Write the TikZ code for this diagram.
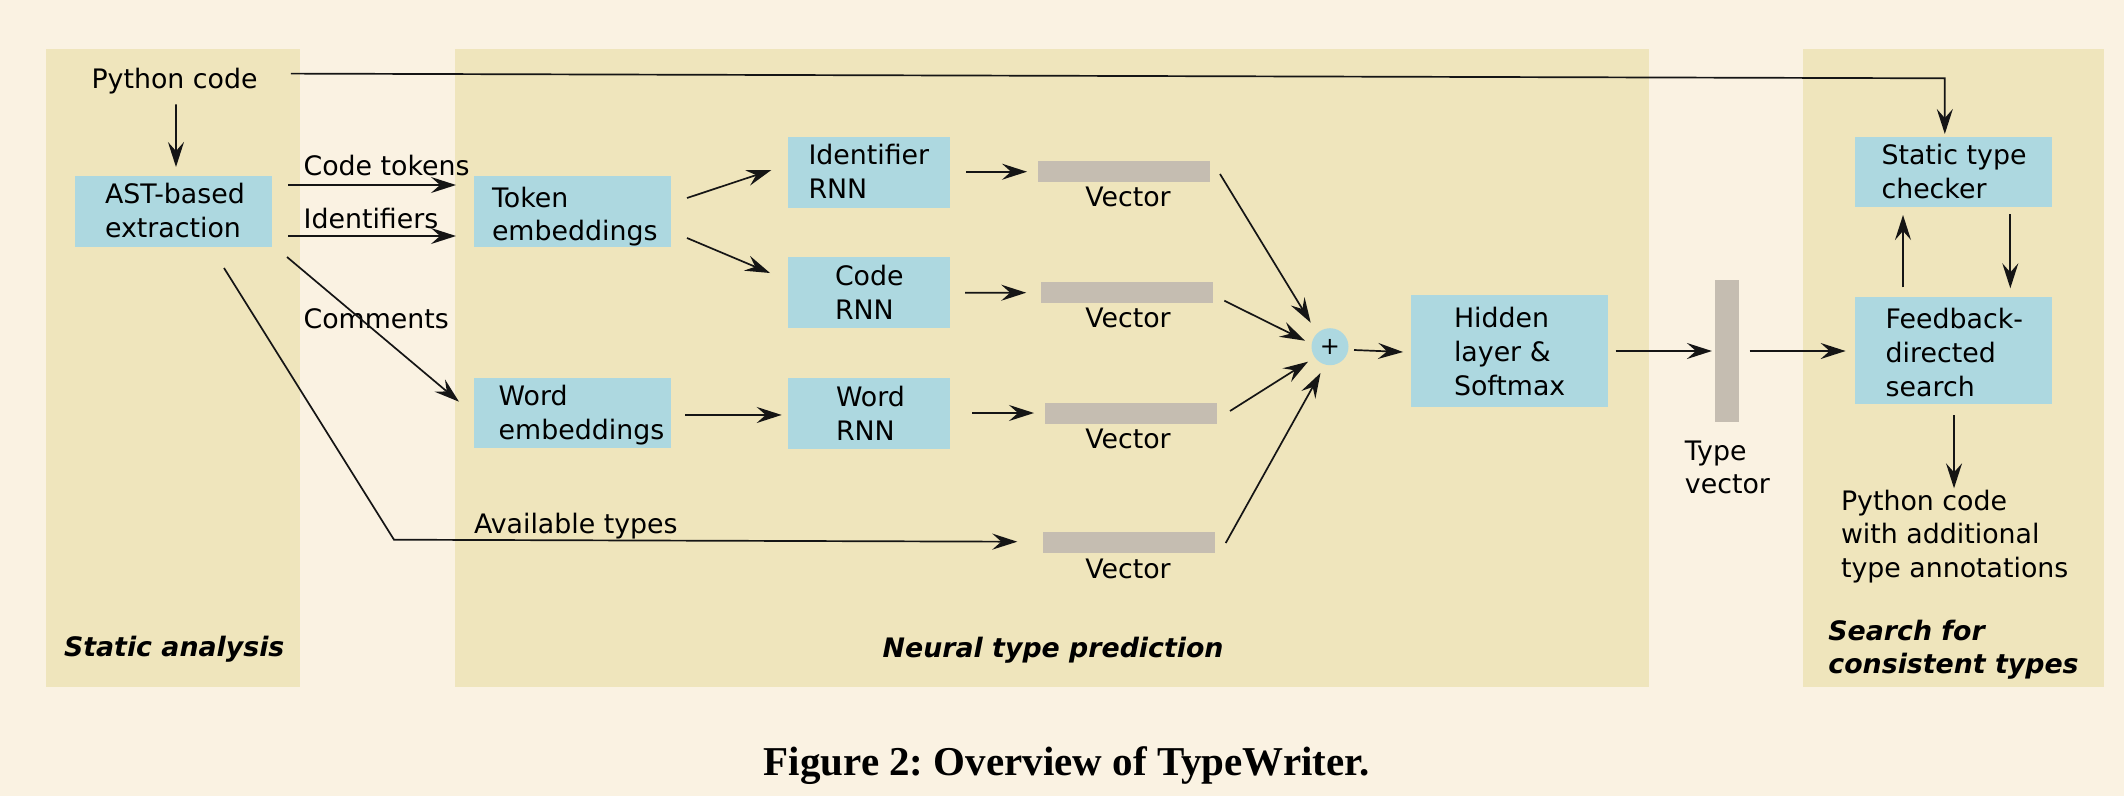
\documentclass[tikz,border=0pt]{standalone}
\usepackage{fontspec}
\setmainfont{DejaVu Sans}
\newfontfamily\capfont{Liberation Serif}
\usetikzlibrary{arrows.meta,calc}
\definecolor{bgc}{HTML}{FAF2E2}
\definecolor{panelc}{HTML}{EFE5BC}
\definecolor{boxc}{HTML}{ADD8E0}
\definecolor{barc}{HTML}{C5BDB1}
\definecolor{linec}{HTML}{151515}
\frenchspacing
\begin{document}
\begin{tikzpicture}[x=1pt,y=-1pt,
  every node/.style={inner sep=0pt, outer sep=0pt, font=\fontsize{26.8}{33.8}\selectfont},
  blk/.style={fill=boxc, draw=none, minimum width=197pt, minimum height=71pt},
  rnn/.style={fill=boxc, draw=none, minimum width=161.6pt, minimum height=71pt},
  bar/.style={fill=barc, draw=none, minimum width=172pt, minimum height=21pt},
  txt/.style={align=left, anchor=north west},
  lbl/.style={anchor=base west},
  vlbl/.style={anchor=base},
  ttl/.style={align=left, font=\fontsize{26.8}{33.3}\selectfont\bfseries\itshape},
  conn/.style={draw=linec, line width=1.7pt, -{Stealth[length=25pt,width=16pt,inset=9pt]}}
]
\useasboundingbox (0,0) rectangle (2124,796);
\fill[bgc] (0,0) rectangle (2124,796);
% panels
\fill[panelc] (46,49.3) rectangle (300.4,686.7);
\fill[panelc] (455,49.3) rectangle (1649,686.7);
\fill[panelc] (1803,49.3) rectangle (2104,686.7);

% boxes
\node[blk] (ast) at (173.5,211.5) {};
\node[blk] (tok) at (572.5,211.5) {};
\node[blk, minimum height=70pt] (we) at (572.5,413) {};
\node[rnn] (idr) at (868.8,172) {};
\node[rnn] (cdr) at (868.8,292.5) {};
\node[rnn] (wdr) at (868.8,413.3) {};
\node[bar] (v1) at (1124,171.5) {};
\node[bar] (v2) at (1126.8,292.35) {};
\node[bar] (v3) at (1131,413) {};
\node[bar] (v4) at (1129.3,542.85) {};
\node[circle, fill=boxc, minimum size=37pt, font=\fontsize{24}{28}\selectfont] (plus) at (1330,346.7) {+};
\node[blk, minimum height=111.4pt] (hid) at (1509.2,351) {};
\node[fill=barc, minimum width=24.4pt, minimum height=141.7pt] (tv) at (1727.1,350.85) {};
\node[blk, minimum height=70.6pt] (stc) at (1953.4,172) {};
\node[blk, minimum height=107pt] (fb) at (1953.4,350.8) {};

% texts
\node[lbl] (py) at (91.5,88) {Python code};
\node[txt] (astt) at (105,183.4) {AST-based\\extraction};
\node[txt] (tokt) at (492,186.8) {Token\\embeddings};
\node[txt] (wet) at (498.7,385.1) {Word\\embeddings};
\node[txt] (idrt) at (808.5,144.1) {Identifier\\RNN};
\node[txt] (cdrt) at (835,265.1) {Code\\RNN};
\node[txt] (wdrt) at (836,386.1) {Word\\RNN};
\node[txt] (hidt) at (1454,307.4) {Hidden\\layer \&\\Softmax};
\node[txt] (stct) at (1881.5,144.4) {Static type\\checker};
\node[txt] (fbt) at (1885.7,308.4) {Feedback-\\directed\\search};
\node[txt, font=\fontsize{26.8}{33.3}\selectfont] (out) at (1841,490.1) {Python code\\with additional\\type annotations};
\node[txt, font=\fontsize{26.8}{33.3}\selectfont] (tvt) at (1684.9,441) {Type\\vector};
\node[vlbl] (v1t) at ($(v1.south)+(4,24.5)$) {Vector};
\node[vlbl] (v2t) at ($(v2.south)+(1.2,25)$) {Vector};
\node[vlbl] (v3t) at ($(v3.south)+(-3,25)$) {Vector};
\node[vlbl] (v4t) at ($(v4.south)+(-1.3,25)$) {Vector};
\node[lbl] (l1) at (303.6,175) {Code tokens};
\node[lbl] (l2) at (303.6,228) {Identifiers};
\node[lbl] (l3) at (303.6,328) {Comments};
\node[lbl] (l4) at (474,533) {Available types};
\node[ttl, anchor=base west] (t1) at (64,656.7) {Static analysis};
\node[ttl, anchor=base west] (t2) at (882.7,657) {Neural type prediction};
\node[ttl, anchor=north west] (t3) at (1828.4,620.1) {Search for\\consistent types};
\node[anchor=base west, font=\capfont\bfseries\fontsize{41}{48}\selectfont] (cap) at (763.8,775) {Figure 2: Overview of TypeWriter.};

% helper coordinates
\coordinate (c1) at (1944.8,78.3);
\coordinate (c2) at (394,539.7);

% connectors
\draw[conn] ($(py.south)+(1.4,10.7)$) -- ($(ast.north)+(2.5,-9)$);
\draw[conn] ($(ast.east)+(16,-26.5)$) -- ($(tok.west)+(-18,-26.5)$);
\draw[conn] ($(ast.east)+(16,24.5)$) -- ($(tok.west)+(-18,24.5)$);
\draw[conn] ($(ast.south east)+(15,10)$) -- ($(we.north west)+(-15,23.7)$);
\draw[conn] ($(ast.south)+(50.5,21)$) -- (c2) -- ($(v4.west)+(-26,-1.15)$);
\draw[conn] ($(tok.east)+(16,-13.5)$) -- ($(idr.west)+(-16.6,-2)$);
\draw[conn] ($(tok.east)+(16,26.5)$) -- ($(cdr.west)+(-18,-19.5)$);
\draw[conn] ($(we.east)+(14,2)$) -- ($(wdr.west)+(-6.3,1.65)$);
\draw[conn] ($(idr.east)+(16.4,-0.3)$) -- ($(v1.west)+(-11,0.2)$);
\draw[conn] ($(cdr.east)+(15.4,0.2)$) -- ($(v2.west)+(-14.6,0.35)$);
\draw[conn] ($(wdr.east)+(22.4,-0.35)$) -- ($(v3.west)+(-11,0)$);
\draw[conn] ($(v1.east)+(10,2.5)$) -- ($(plus.center)+(-19.3,-24)$);
\draw[conn] ($(v2.east)+(11.5,8.35)$) -- ($(plus.center)+(-25,-6)$);
\draw[conn] ($(v3.east)+(13,-2)$) -- ($(plus.center)+(-22,15)$);
\draw[conn] ($(v4.east)+(10.4,0.15)$) -- ($(plus.center)+(-9.5,26.3)$);
\draw[conn] ($(plus.east)+(5.5,3.3)$) -- ($(hid.west)+(-7.6,1)$);
\draw[conn] ($(hid.east)+(8,0)$) -- ($(tv.west)+(-3,0.15)$);
\draw[conn] ($(tv.east)+(10.2,0.15)$) -- ($(fb.west)+(-9.3,0.2)$);
\draw[conn] ($(fb.north)+(-50.4,-10)$) -- ($(stc.south)+(-50.4,7.7)$);
\draw[conn] ($(stc.south)+(56.9,7)$) -- ($(fb.north)+(56.9,-9)$);
\draw[conn] ($(fb.south)+(0.6,10.7)$) -- ($(fb.south |- out.north)+(0.6,-1.8)$);
\draw[conn] ($(py.east)+(33.4,-7)$) -- (c1) -- ($(stc.north)+(-8.6,-2.7)$);
\end{tikzpicture}
\end{document}
